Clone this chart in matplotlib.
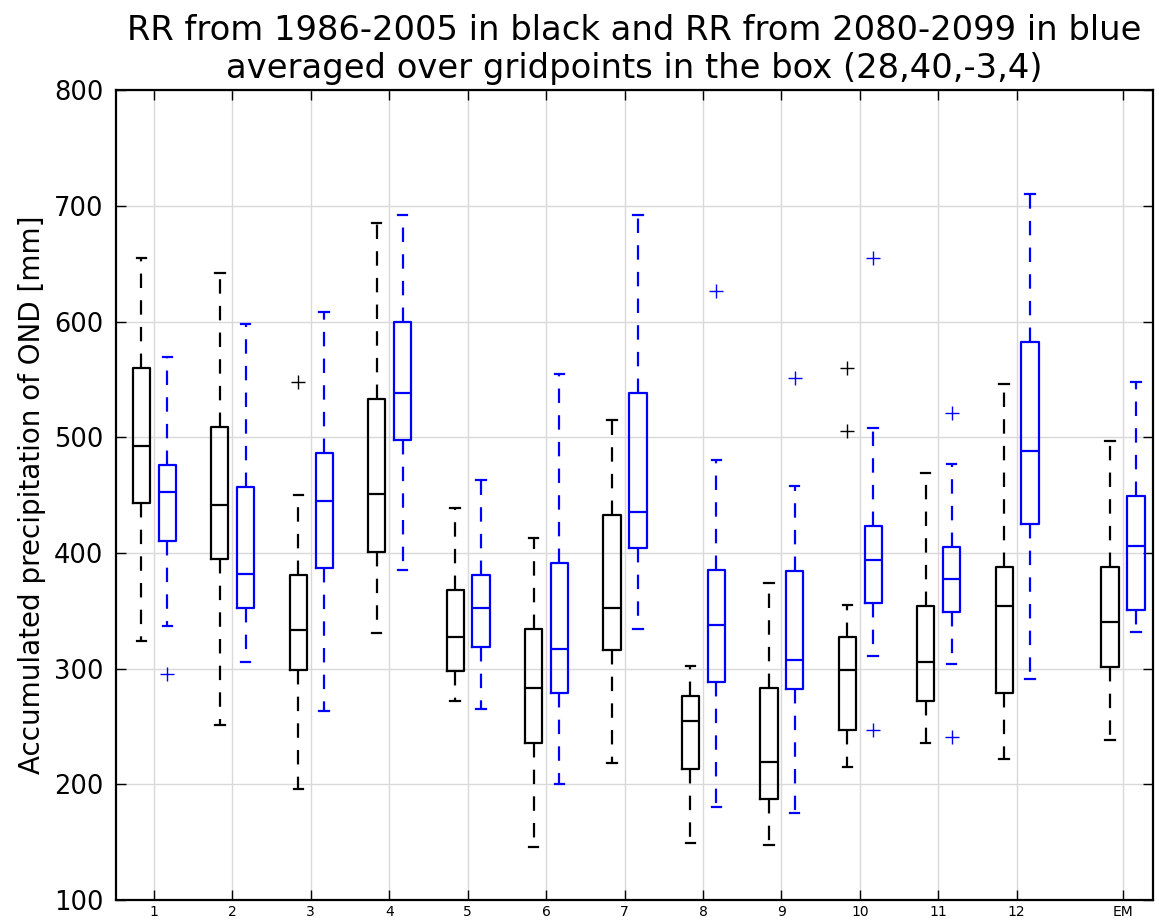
import matplotlib
matplotlib.use("Agg")
import matplotlib.pyplot as plt

labels = ["1", "2", "3", "4", "5", "6", "7", "8", "9", "10", "11", "12", "EM"]
xpos = [1, 2, 3, 4, 5, 6, 7, 8, 9, 10, 11, 12, 13.35]

# 1986-2005 (black): low whisker, q1, median, q3, high whisker
hist_lo = [324, 251, 196, 331, 272, 146, 218, 149, 147, 215, 236, 222, 238]
hist_q1 = [443, 395, 299, 401, 298, 236, 316, 213, 187, 247, 272, 279, 301]
hist_med = [492, 441, 333, 451, 327, 283, 352, 255, 219, 299, 306, 354, 340]
hist_q3 = [560, 509, 381, 533, 368, 334, 433, 276, 283, 327, 354, 388, 388]
hist_hi = [655, 642, 450, 685, 439, 413, 515, 302, 374, 355, 469, 546, 497]
hist_out = [[], [], [548], [], [], [], [], [], [], [560, 505], [], [], []]

# 2080-2099 (blue)
fut_lo = [337, 306, 263, 385, 265, 200, 334, 180, 175, 311, 304, 291, 332]
fut_q1 = [410, 352, 387, 498, 319, 279, 404, 288, 282, 357, 349, 425, 351]
fut_med = [453, 382, 445, 538, 352, 317, 435, 338, 307, 394, 377, 488, 406]
fut_q3 = [476, 457, 486, 600, 381, 391, 538, 385, 384, 423, 405, 582, 449]
fut_hi = [569, 598, 608, 692, 463, 555, 692, 480, 458, 508, 477, 710, 548]
fut_out = [[295], [], [], [], [], [], [], [626], [551], [655, 247], [521, 241], [], []]


def make_stats(lo, q1, med, q3, hi, out):
    return [dict(whislo=a, q1=b, med=c, q3=d, whishi=e, fliers=f)
            for a, b, c, d, e, f in zip(lo, q1, med, q3, hi, out)]


fig = plt.figure(figsize=(11.59, 9.21), dpi=100)
ax = fig.add_axes([0.100, 0.023, 0.895, 0.879])

for stats, off, col in [
    (make_stats(hist_lo, hist_q1, hist_med, hist_q3, hist_hi, hist_out), -0.16, "k"),
    (make_stats(fut_lo, fut_q1, fut_med, fut_q3, fut_hi, fut_out), 0.17, "b"),
]:
    ax.bxp(stats, positions=[p + off for p in xpos], widths=0.22, capwidths=0.12,
           manage_ticks=False,
           boxprops=dict(color=col, linewidth=1.6),
           whiskerprops=dict(color=col, linewidth=1.6, linestyle=(0, (6.5, 5.5))),
           capprops=dict(color=col, linewidth=1.6),
           medianprops=dict(color=col, linewidth=1.6),
           flierprops=dict(marker="+", markeredgecolor=col, markersize=9.5,
                           markeredgewidth=1.0, linestyle="none"))

ax.set_xlim(0.515, 13.74)
ax.set_ylim(100, 800)
ax.set_xticks(xpos)
ax.set_xticklabels(labels, fontsize=10)
ax.set_yticks(range(100, 801, 100))
ax.tick_params(axis="y", labelsize=18.5, pad=9)
ax.tick_params(direction="in", top=True, right=True, length=7, width=1)
ax.grid(True, color="#d9d9d9", linewidth=1.0)
ax.set_axisbelow(True)
for s in ax.spines.values():
    s.set_linewidth(1.6)

ax.set_ylabel("Accumulated precipitation of OND [mm]", fontsize=20, labelpad=6)
ax.set_title("RR from 1986-2005 in black and RR from 2080-2099 in blue\n"
             "averaged over gridpoints in the box (28,40,-3,4)", fontsize=24.3, pad=8.5)

fig.savefig("out.png", dpi=100)
